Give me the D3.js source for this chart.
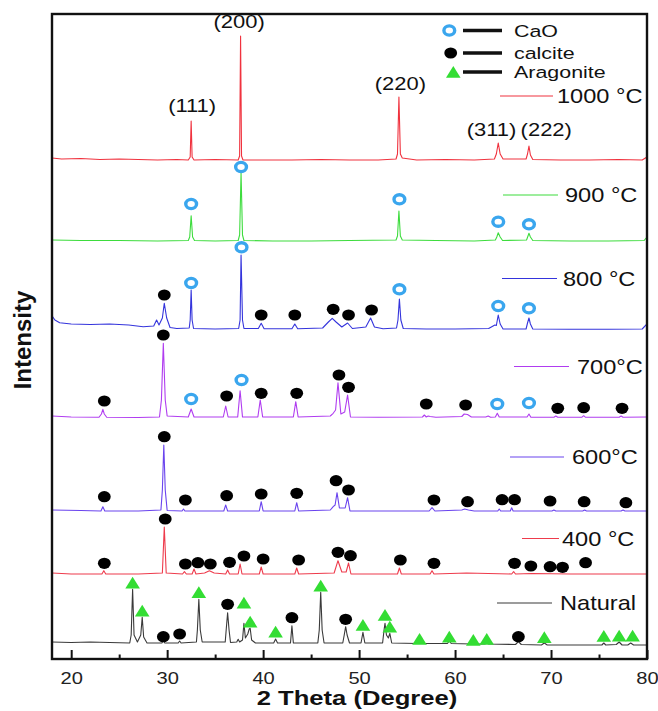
<!DOCTYPE html>
<html>
<head>
<meta charset="utf-8">
<script src="https://cdn.jsdelivr.net/npm/d3@7"></script>
<style>
  body { margin: 0; background: #fff; }
  text { font-family: "Liberation Sans", Arial, sans-serif; }
</style>
</head>
<body>
<div id="chart"></div>
<script>
// XRD patterns, [2theta, intensity a.u. incl. vertical offset]
const natural = [[18,17],[20,16.5],[22,17],[24,16.5],[26.1,16],[26.25,24],[26.4,69.7],[26.55,24],[26.9,17],[27.25,24],[27.4,41.7],[27.55,22],[27.9,16],
  [29.45,16],[29.6,18.3],[29.75,16],[31.15,16],[31.3,18],[31.45,16],[33.05,17],[33.15,29],[33.3,59.7],[33.45,29],[33.65,17],
  [36.05,17],[36.15,29],[36.3,46.3],[36.45,29],[36.6,16.5],[37.25,17],[37.4,19.7],[37.55,17],[37.85,19],[38.0,35.7],[38.15,21],[38.4,25],[38.55,30],[38.65,30.7],[38.8,19],[39.2,16],
  [41.1,16],[41.3,20],[41.5,16],[42.85,16],[43.0,33.3],[43.15,16],[45.7,16],[45.85,29],[46.0,66.7],[46.15,29],[46.35,16],
  [48.3,16],[48.45,24],[48.6,32.3],[48.75,24],[49.0,16],[50.2,16],[50.4,26.7],[50.6,16],[52.45,16],[52.6,29],[52.7,35.7],[52.85,24],[53.05,21],[53.2,25.7],[53.4,16],
  [56.1,15.5],[56.3,17],[56.5,15.5],[59.2,15.5],[59.4,18],[59.6,15.5],[61.8,15],[62.0,16],[62.2,15],[63.1,15],[63.3,16],[63.5,15],
  [66.3,14.5],[66.6,17.5],[66.9,14.5],[69.0,14],[69.3,16],[69.6,14],[72,14],[75.3,14],[75.5,16],[75.7,14],[76.8,14.5],[77.1,17],[77.4,14],[78.0,14],[78.3,16],[78.6,14],[80,14]];

const t400 = [[18,86],[20,85],[23.2,85],[23.4,88.3],[23.6,85],[27,85],[29.5,86],[29.7,132],[29.9,86],[31.6,85],[31.8,87.3],[32.0,85],
  [32.6,85],[32.8,90],[33.0,85],[33.9,86],[34.4,88.3],[34.9,86],[36.1,85],[36.3,89],[36.5,85],[37.4,85],[37.6,95],[37.8,85],
  [39.6,85],[39.8,92],[40.0,85],[43.3,85],[43.5,91],[43.7,85],[47.4,86],[47.8,98.3],[48.2,87],[48.65,87],[48.9,96],[49.15,85],
  [54.0,85],[54.2,91],[54.4,85],[57.4,85],[57.6,88.3],[57.8,85],[61.2,86],[65.9,85],[66.1,87.3],[66.3,85],[68,85.5],[72,85],[80,85]];

const t600 = [[18,149],[21,148.5],[23.1,148],[23.3,152.3],[23.5,148],[27,148],[29.35,149],[29.5,169],[29.65,214],[29.8,169],[30.0,148.5],
  [31.55,148],[31.7,150],[31.85,148],[35.9,148],[36.1,154],[36.3,148],[39.6,148],[39.8,157.3],[40.0,148],[43.3,148],[43.5,156.3],[43.7,148],
  [47.0,149],[47.3,152.3],[47.5,154],[47.7,166.3],[47.95,151],[48.55,151],[48.8,161.3],[49.05,148],[52,148],
  [57.3,148],[57.6,151.3],[57.9,148],[60.7,149],[61.0,150],[61.4,149],[62,148],[64.45,148],[64.6,150],[64.75,148],
  [65.75,148],[65.9,151.3],[66.05,148],[70.1,148],[70.3,149],[70.5,148],[73.3,148],[73.5,149],[73.7,148],[77.3,148],[77.5,149],[77.7,148],[80,148]];

const t700 = [[18,243],[20,242],[22.9,241.7],[23.15,245],[23.3,249.7],[23.45,245],[23.7,241.7],[27,241.5],[29.2,242],[29.4,259],[29.6,315.7],[29.8,259],[30.0,243],
  [32.2,242],[32.5,250],[32.8,242],[35.85,242],[36.1,253],[36.35,242],[37.35,242],[37.6,268.3],[37.85,242],
  [39.45,242],[39.7,259],[39.95,242],[43.15,242],[43.4,257.3],[43.65,242],[47.0,243],[47.3,245.7],[47.55,249],[47.8,276.3],[48.1,245],[48.5,247],[48.8,264],[49.1,242],
  [52,241.7],[56.6,242],[56.8,244],[57.0,242],[57.2,243],[57.4,242.5],[58,241.7],[60.7,242.5],[60.95,245],[61.3,244.5],[61.7,242],
  [63.2,242],[63.45,243],[63.7,241.7],[64.2,242],[64.4,245.7],[64.6,242],[67.5,242],[67.7,245],[67.9,241.7],
  [70.3,241.7],[70.5,243],[70.7,241.7],[73.2,241.7],[73.4,243.3],[73.6,241.7],[77.1,241.7],[77.3,243],[77.5,241.7],[80,242]];

const t800 = [[18,343.3],[18.3,339],[18.8,336.3],[20,335],[22,334.5],[24,335],[26,334],[27.5,332.3],[28.6,333],[28.9,339],[29.15,334],[29.5,341],[29.7,355.7],[29.95,341],[30.3,331.5],
  [31,330.5],[32.3,331],[32.4,339],[32.5,369],[32.6,339],[32.75,330.5],[35,330],[37.45,330.5],[37.6,339],[37.7,404],[37.85,339],[38.0,330.5],
  [39.5,330.5],[39.8,335.7],[40.1,330.3],[43.0,330.3],[43.3,335],[43.6,330.3],[46.2,331],[46.8,337],[47.2,340.7],[47.6,337],[48.2,332],[48.8,336],[49.3,330.5],
  [50.7,332],[51.2,341],[51.6,332],[52.5,330.3],[53.9,331],[54.05,339],[54.2,360],[54.35,339],[54.6,330.5],[57,330],[60,330],
  [63.5,330.5],[64.15,334],[64.3,333.5],[64.5,344],[64.7,335],[65.0,330],[67.4,330],[67.55,336],[67.7,341],[67.85,335],[68.1,330],
  [72,329.7],[76,329.7],[79.5,330],[80,335]];

const t900 = [[18,419],[21,418.5],[25,418.5],[29,418],[32.2,418.5],[32.35,422],[32.5,443.3],[32.65,422],[32.85,418.5],[35,418],
  [37.4,418.5],[37.55,424],[37.7,486],[37.85,424],[38.0,418.5],[41,418],[45,418],[49,418.5],[53.85,419],[54.0,423],[54.15,448],[54.3,423],[54.5,419],
  [58,418.5],[62,418],[64.2,419],[64.35,422],[64.5,426.3],[64.7,422],[64.95,418.5],[67.45,419],[67.6,423],[67.7,425.7],[67.85,422],[68.1,418.5],
  [72,418],[76,418],[79.7,418.5],[80,422]];

const t1000 = [[18,501],[19,500],[21,500.5],[23,499.5],[25,500],[27,499.5],[29,499],[31,499.5],[32.2,499],[32.4,502],[32.5,538],[32.6,502],[32.8,499],
  [35,499.5],[37.4,499],[37.55,503],[37.65,623],[37.75,503],[37.9,499],[40,499],[43,499],[46,499.5],[49,499],[52,499],
  [53.85,500],[54.0,505],[54.15,562],[54.3,505],[54.5,501],[56,499],[59,499.5],[62,499],
  [64.1,500],[64.3,505],[64.5,516],[64.7,505],[65.0,500],[67.4,500],[67.55,505],[67.7,513],[67.85,504],[68.1,499.5],
  [71,499],[74,499],[77,499.5],[79.5,499],[80,502]];

const seriesNames = ["Natural", "400 °C", "600°C", "700°C", "800 °C", "900 °C", "1000 °C"];
const seriesData = [natural, t400, t600, t700, t800, t900, t1000];
const seriesColors = ["#3a3a3a", "#ee3b4c", "#6a44ee", "#b03cf0", "#3434dc", "#3ddc3d", "#f0323e"];

// phase markers, [2theta, level]
const caoMarks = [[32.5,455],[37.7,492],[54.2,459.7],[64.5,437.3],[67.7,434.7],
  [32.5,376],[37.75,411.7],[54.2,369.7],[64.5,353],[67.7,350.7],
  [32.5,260],[37.75,279],[64.4,255],[67.7,256]];
const calciteMarks = [[29.7,364],[39.8,344],[43.3,344],[47.3,349.7],[48.9,344],[51.3,349],
  [23.45,258],[29.6,324],[36.2,263],[39.8,265.7],[43.5,265.7],[47.9,284],[48.9,271.7],[57.0,255],[61.1,254],[70.7,250.7],[73.4,251.3],[77.4,250.7],
  [23.45,162.3],[29.7,222.3],[31.9,159],[36.2,163.3],[39.8,165],[43.5,165.7],[47.6,178.3],[48.9,169],[57.8,159],[61.3,157.3],[64.9,159.3],[66.2,159.3],[69.9,158],[73.45,157.3],[77.8,156.3],
  [23.45,95.7],[29.8,140],[31.9,95],[33.2,96.3],[34.5,95],[36.5,96.7],[38.0,103],[40.0,100],[43.7,99],[47.8,106.7],[49.1,103.3],[54.3,99],[57.8,95.7],[66.2,95.7],[67.9,93],[69.9,92.3],[71.2,91.7],[73.6,96.3],
  [29.6,22.3],[31.3,25],[36.3,54.7],[43.0,41.3],[48.6,39.7],[66.6,22.3]];
const aragoniteMarks = [[26.4,76.3],[27.4,48.3],[33.3,66.7],[38.0,56.3],[38.65,37.3],[41.3,27.3],[46.0,73.3],[50.4,34],[52.7,44],[53.2,32.3],
  [56.3,20],[59.4,22.3],[61.9,19],[63.3,20],[69.3,21.7],[75.5,23],[77.1,23.3],[78.5,23.3]];

// CaO reflections of the 1000 °C pattern
const hklNames = ["(111)", "(200)", "(220)", "(311)", "(222)"];
const hklAt = [[32.6,553],[37.5,637],[54.3,575],[63.8,529],[69.5,529]];

const phaseNames = ["CaO", "calcite", "Aragonite"];
const xTicks = [20, 30, 40, 50, 60, 70, 80];
const xMinor = [25, 35, 45, 55, 65, 75];

// layout
const W = 658, H = 711;
const frame = {left: 52, right: 647, top: 14, bottom: 659};
const stretch = 1.22; // source figure is a bit wider than tall
// temperature key: line start, line end, text x, y (px)
const keyPos = [[497,552,560,603],[522,559,562,538.5],[510,564,572,457],[514,569,577,366.5],[502,557,563,278.5],[503,558,565,195],[500,553,557,96]];

const svg = d3.select('#chart').append('svg')
    .attr('width', W).attr('height', H);

let x = d3.scaleLinear().domain([18, 80]).range([frame.left, frame.right]);
let y = d3.scaleLinear().domain([0, 645]).range([frame.bottom, frame.top]);

svg.append('clipPath').attr('id', 'clip')
    .append('rect')
    .attr('x', frame.left).attr('y', frame.top)
    .attr('width', frame.right - frame.left).attr('height', frame.bottom - frame.top);

let line = d3.line().x(d => x(d[0])).y(d => y(d[1]));

let traces = svg.append('g').attr('clip-path', 'url(#clip)');
seriesData.forEach((s, i) => {
    traces.append('path')
        .attr('d', line(s))
        .attr('fill', 'none')
        .attr('stroke', seriesColors[i])
        .attr('stroke-width', 1.1)
        .attr('stroke-linejoin', 'round');
});

// markers
function drawDot(g, cx, cy) {
    g.append('ellipse').attr('cx', cx).attr('cy', cy)
        .attr('rx', 6.4).attr('ry', 5.6).attr('fill', '#000');
}
function drawRing(g, cx, cy) {
    g.append('ellipse').attr('cx', cx).attr('cy', cy)
        .attr('rx', 5.4).attr('ry', 4.6)
        .attr('fill', '#fff').attr('stroke', '#3aa6ee').attr('stroke-width', 3.4);
}
function drawTri(g, cx, cy) {
    g.append('path')
        .attr('d', `M${cx - 7.3},${cy + 5.8}L${cx + 7.3},${cy + 5.8}L${cx},${cy - 6}Z`)
        .attr('fill', '#33dd33');
}

let marks = svg.append('g');
calciteMarks.forEach(d => drawDot(marks, x(d[0]), y(d[1])));
caoMarks.forEach(d => drawRing(marks, x(d[0]), y(d[1])));
aragoniteMarks.forEach(d => drawTri(marks, x(d[0]), y(d[1])));

// frame
svg.append('rect')
    .attr('x', frame.left).attr('y', frame.top)
    .attr('width', frame.right - frame.left).attr('height', frame.bottom - frame.top)
    .attr('fill', 'none').attr('stroke', '#111').attr('stroke-width', 2.4);

// x axis, ticks pointing inwards
let axisG = svg.append('g').attr('transform', `translate(0,${frame.bottom})`);
axisG.append('g')
    .call(d3.axisBottom(x).tickValues(xMinor).tickSize(-4.5).tickFormat(''))
    .call(g => g.select('.domain').remove())
    .selectAll('line').attr('stroke', '#111').attr('stroke-width', 2);
let major = axisG.append('g')
    .call(d3.axisBottom(x).tickValues(xTicks).tickSize(-9).tickPadding(13))
    .call(g => g.select('.domain').remove());
major.selectAll('line').attr('stroke', '#111').attr('stroke-width', 2);
major.selectAll('text')
    .attr('font-size', 16.5)
    .attr('font-family', '"Liberation Sans", Arial, sans-serif')
    .attr('fill', '#222')
    .attr('transform', `scale(${stretch},1)`);

function label(tx, ty, txt, size, opts) {
    opts = opts || {};
    return svg.append('text')
        .attr('transform', `translate(${tx},${ty}) scale(${opts.sx || stretch},1)` + (opts.rot ? ` rotate(${opts.rot})` : ''))
        .attr('text-anchor', opts.anchor || 'start')
        .attr('dy', '0.36em')
        .attr('font-size', size)
        .attr('font-weight', opts.bold ? 'bold' : 'normal')
        .attr('fill', '#111')
        .text(txt);
}

// axis titles
label(357, 697, '2 Theta (Degree)', 21, {anchor: 'middle', bold: true});
label(22, 340, 'Intensity', 24, {anchor: 'middle', bold: true, rot: -90, sx: 1.02});

// hkl labels
hklNames.forEach((n, i) => label(x(hklAt[i][0]), y(hklAt[i][1]), n, 18, {anchor: 'middle'}));

// temperature key
seriesNames.forEach((n, i) => {
    let k = keyPos[i];
    svg.append('line')
        .attr('x1', k[0]).attr('x2', k[1]).attr('y1', k[3]).attr('y2', k[3])
        .attr('stroke', seriesColors[i]).attr('stroke-width', 1.2);
    label(k[2], k[3], n, 20, {sx: 1.18});
});

// phase legend
let legY = [30.5, 53, 72];
let legG = svg.append('g');
drawRing(legG, 449.3, legY[0]);
drawDot(legG, 450.7, legY[1]);
drawTri(legG, 453.3, legY[2]);
phaseNames.forEach((n, i) => {
    legG.append('line')
        .attr('x1', 463).attr('x2', 502).attr('y1', legY[i]).attr('y2', legY[i])
        .attr('stroke', '#111').attr('stroke-width', 3.3);
    label(514, legY[i], n, 17, {sx: 1.26});
});
</script>
</body>
</html>
